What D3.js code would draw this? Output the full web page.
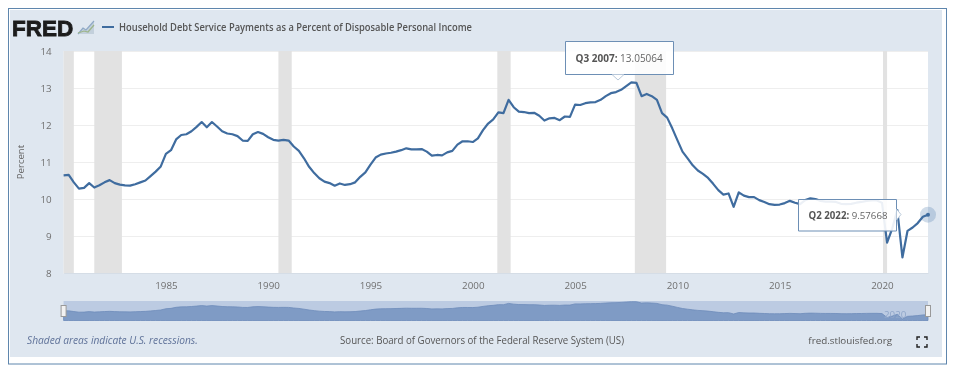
<!DOCTYPE html>
<html>
<head>
<meta charset="utf-8">
<title>Household Debt Service Payments</title>
<script src="https://cdn.jsdelivr.net/npm/d3@7"></script>
<style>
  html, body { margin: 0; padding: 0; background: #fff; }
  svg { display: block; font-family: "Open Sans", sans-serif; filter: blur(0.35px); }
</style>
</head>
<body>
<div id="chart-area"></div>
<script>
// Quarterly values, one row per year, 1980 Q1 to 2022 Q2
var startYear = 1980;
var debtService = [
    10.64, 10.65, 10.45, 10.28,
    10.30, 10.43, 10.31, 10.37,
    10.45, 10.51, 10.43, 10.39,
    10.37, 10.36, 10.40, 10.45,
    10.50, 10.62, 10.74, 10.88,
    11.22, 11.32, 11.61, 11.73,
    11.75, 11.83, 11.95, 12.08,
    11.94, 12.08, 11.96, 11.83,
    11.77, 11.75, 11.70, 11.58,
    11.57, 11.75, 11.81, 11.76,
    11.67, 11.60, 11.58, 11.60,
    11.58, 11.42, 11.30, 11.10,
    10.87, 10.70, 10.56, 10.47,
    10.43, 10.36, 10.42, 10.38,
    10.40, 10.45, 10.60, 10.72,
    10.93, 11.12, 11.20, 11.23,
    11.25, 11.28, 11.32, 11.37,
    11.34, 11.34, 11.35, 11.28,
    11.17, 11.19, 11.18, 11.26,
    11.30, 11.47, 11.56, 11.56,
    11.54, 11.64, 11.86, 12.04,
    12.15, 12.34, 12.32, 12.68,
    12.48, 12.36, 12.35, 12.32,
    12.33, 12.25, 12.12, 12.18,
    12.19, 12.13, 12.23, 12.22,
    12.55, 12.54, 12.59, 12.61,
    12.62, 12.68, 12.78, 12.86,
    12.89, 12.95, 13.05064, 13.15,
    13.14, 12.78, 12.84, 12.78,
    12.68, 12.32, 12.20, 11.91,
    11.59, 11.28, 11.10, 10.91,
    10.77, 10.68, 10.57, 10.41,
    10.24, 10.12, 10.15, 9.79,
    10.18, 10.09, 10.05, 10.05,
    9.97, 9.92, 9.86, 9.84,
    9.85, 9.89, 9.95, 9.90,
    9.86, 9.97, 10.02, 10.00,
    9.95, 9.93, 9.93, 9.92,
    9.87, 9.86, 9.87, 9.90,
    9.92, 9.95, 9.96, 9.96,
    9.90, 8.82, 9.20, 9.70,
    8.42, 9.14, 9.23, 9.35,
    9.52, 9.57668
];
var recessions = [[1980, 1980.5], [1981.5, 1982.85], [1990.5, 1991.15], [2001.2, 2001.85], [2007.92, 2009.45], [2020.05, 2020.25]];
var xTicks = [1985, 1990, 1995, 2000, 2005, 2010, 2015, 2020];
var yTicks = [8, 9, 10, 11, 12, 13, 14];

var width = 958, height = 371;
var plot = { left: 63.6, right: 928, top: 51, bottom: 273 };
var lineColor = "#3f6c9f";

var quarters = debtService.map(function(d, i) { return startYear + i / 4; });

var svg = d3.select("#chart-area")
    .append("svg")
        .attr("width", width)
        .attr("height", height);

// Frame and panel
svg.append("rect")
    .attr("x", 10).attr("y", 10)
    .attr("width", 932).attr("height", 347)
    .attr("fill", "#dfe7f0");
svg.append("rect")
    .attr("x", 8.5).attr("y", 8.5)
    .attr("width", 938).attr("height", 355.5)
    .attr("fill", "none")
    .attr("stroke", "#5f86ad");

// Scales
var x = d3.scaleLinear()
    .domain([startYear, d3.max(quarters)])
    .range([plot.left, plot.right]);
var y = d3.scaleLinear()
    .domain([8, 14])
    .range([plot.bottom, plot.top]);

svg.append("rect")
    .attr("x", plot.left).attr("y", plot.top)
    .attr("width", plot.right - plot.left).attr("height", plot.bottom - plot.top)
    .attr("fill", "#fff");

// Y axis, ticks double as grid lines
var yAxisGroup = svg.append("g")
    .attr("transform", "translate(" + plot.left + ",0)")
    .call(d3.axisLeft(y)
        .tickValues(yTicks)
        .tickFormat(d3.format("d"))
        .tickSize(-(plot.right - plot.left))
        .tickPadding(12));
yAxisGroup.select(".domain").remove();
yAxisGroup.selectAll("line").attr("stroke", "#eeeeee");
yAxisGroup.selectAll("text")
    .attr("font-size", "9.8px")
    .attr("font-family", "Open Sans")
    .attr("fill", "#707070");

// Recession bands
svg.append("g").selectAll("rect")
    .data(recessions)
    .enter().append("rect")
        .attr("x", function(d) { return x(d[0]); })
        .attr("y", plot.top)
        .attr("width", function(d) { return x(d[1]) - x(d[0]); })
        .attr("height", plot.bottom - plot.top)
        .attr("fill", "#e2e2e2");

// X axis
var xAxisGroup = svg.append("g")
    .attr("transform", "translate(0," + plot.bottom + ")")
    .call(d3.axisBottom(x)
        .tickValues(xTicks)
        .tickFormat(d3.format("d"))
        .tickSize(0)
        .tickPadding(9));
xAxisGroup.select(".domain").attr("stroke", "#d5dde6");
xAxisGroup.selectAll("text")
    .attr("font-size", "9.8px")
    .attr("font-family", "Open Sans")
    .attr("fill", "#707070");

// Y label
svg.append("text")
    .attr("transform", "translate(24,162) rotate(-90)")
    .attr("text-anchor", "middle")
    .attr("font-size", "9.6px")
    .attr("fill", "#666")
    .text("Percent");

// Main line
var line = d3.line()
    .x(function(d, i) { return x(quarters[i]); })
    .y(function(d) { return y(d); });

svg.append("path")
    .datum(debtService)
    .attr("d", line)
    .attr("fill", "none")
    .attr("stroke", lineColor)
    .attr("stroke-width", 2.2)
    .attr("stroke-linejoin", "round");

// Last point marker
var lastIdx = debtService.length - 1;
svg.append("circle")
    .attr("cx", x(quarters[lastIdx])).attr("cy", y(debtService[lastIdx]))
    .attr("r", 8)
    .attr("fill", "#4572a7")
    .attr("opacity", 0.25);
svg.append("circle")
    .attr("cx", x(quarters[lastIdx])).attr("cy", y(debtService[lastIdx]))
    .attr("r", 2)
    .attr("fill", lineColor);

// Tooltips
function tooltip(bx, by, bw, bh, arrow, label, value, size) {
    var g = svg.append("g");
    g.append("path")
        .attr("d", "M" + bx + "," + by + "h" + bw + "v" + bh + "h" + (-bw) + "z")
        .attr("fill", "#fff")
        .attr("fill-opacity", 0.9)
        .attr("stroke", "#6d8fb5")
        .attr("stroke-width", 1);
    g.append("path")
        .attr("d", arrow)
        .attr("fill", "#fff")
        .attr("stroke", "#b9c9da");
    var t = g.append("text")
        .attr("x", bx + 10)
        .attr("y", by + bh / 2 + 4)
        .attr("font-size", size)
        .attr("fill", "#666");
    t.append("tspan").attr("font-weight", 700).attr("fill", "#555").text(label + ": ");
    t.append("tspan").text(value);
}
tooltip(565.5, 41.5, 108, 33, "M612,74.5L618,80L624,74.5", "Q3 2007", "13.05064", "10px");
tooltip(798.5, 199.5, 98, 31.5, "M896.5,209L901,214.5L896.5,220", "Q2 2022", "9.57668", "9.7px");

// Navigator
var nav = { top: 301, bottom: 320.5 };
var navY = d3.scaleLinear()
    .domain([8, 13.2])
    .range([nav.bottom, nav.top + 0.5]);
svg.append("rect")
    .attr("x", plot.left).attr("y", nav.top)
    .attr("width", plot.right - plot.left).attr("height", nav.bottom - nav.top)
    .attr("fill", "#bccbe2");
var navArea = d3.area()
    .x(function(d, i) { return x(quarters[i]); })
    .y0(nav.bottom)
    .y1(function(d) { return navY(d); });
svg.append("path")
    .datum(debtService)
    .attr("d", navArea)
    .attr("fill", "#7f9bc5")
    .attr("stroke", "#6d8cba")
    .attr("stroke-width", 0.8);
svg.append("text")
    .attr("x", x(2020.1)).attr("y", 317.5)
    .attr("font-size", "9.8px")
    .attr("fill", "#8fa6c9")
    .text("2020");
[plot.left, plot.right].forEach(function(hx) {
    svg.append("rect")
        .attr("x", hx - 2.5).attr("y", 305.5)
        .attr("width", 5).attr("height", 11)
        .attr("fill", "#f2f2f2")
        .attr("stroke", "#999");
});

// Logo
svg.append("text")
    .attr("x", 12).attr("y", 35.5)
    .attr("font-family", "Liberation Sans")
    .attr("font-size", "22.5px")
    .attr("font-weight", 700)
    .attr("fill", "#1c1c1c")
    .attr("stroke", "#1c1c1c")
    .attr("stroke-width", 0.8)
    .text("FRED");
svg.append("path")
    .attr("d", "M78,34L83,28L86,30L94,21V34Z")
    .attr("fill", "#c3d0dc");
svg.append("path")
    .attr("d", "M78,34L83,28L86,30L94,21")
    .attr("fill", "none").attr("stroke", "#8fa9c6").attr("stroke-width", 1.2);
svg.append("path")
    .attr("d", "M78,33L84,31L88,32L94,25")
    .attr("fill", "none").attr("stroke", "#9db58a").attr("stroke-width", 1.2);

// Legend and title
svg.append("line")
    .attr("x1", 102).attr("x2", 114)
    .attr("y1", 27).attr("y2", 27)
    .attr("stroke", lineColor)
    .attr("stroke-width", 2);
svg.append("text")
    .attr("x", 119).attr("y", 31)
    .attr("font-size", "10px")
    .attr("font-weight", 600)
    .attr("fill", "#555")
    .attr("textLength", 353)
    .attr("lengthAdjust", "spacingAndGlyphs")
    .text("Household Debt Service Payments as a Percent of Disposable Personal Income");

// Footer
svg.append("text")
    .attr("x", 27).attr("y", 344)
    .attr("font-size", "10.2px")
    .attr("font-style", "italic")
    .attr("fill", "#5f7299")
    .text("Shaded areas indicate U.S. recessions.");
svg.append("text")
    .attr("x", 340).attr("y", 344)
    .attr("font-size", "10px")
    .attr("fill", "#555")
    .attr("textLength", 284)
    .attr("lengthAdjust", "spacingAndGlyphs")
    .text("Source: Board of Governors of the Federal Reserve System (US)");
svg.append("text")
    .attr("x", 892).attr("y", 344)
    .attr("text-anchor", "end")
    .attr("font-size", "9.8px")
    .attr("fill", "#555")
    .text("fred.stlouisfed.org");

// Fullscreen icon
svg.append("path")
    .attr("d", "M917,340V337H920M924,337H927V340M927,344V347H924M920,347H917V344")
    .attr("fill", "none")
    .attr("stroke", "#222")
    .attr("stroke-width", 1.4);
</script>
</body>
</html>
